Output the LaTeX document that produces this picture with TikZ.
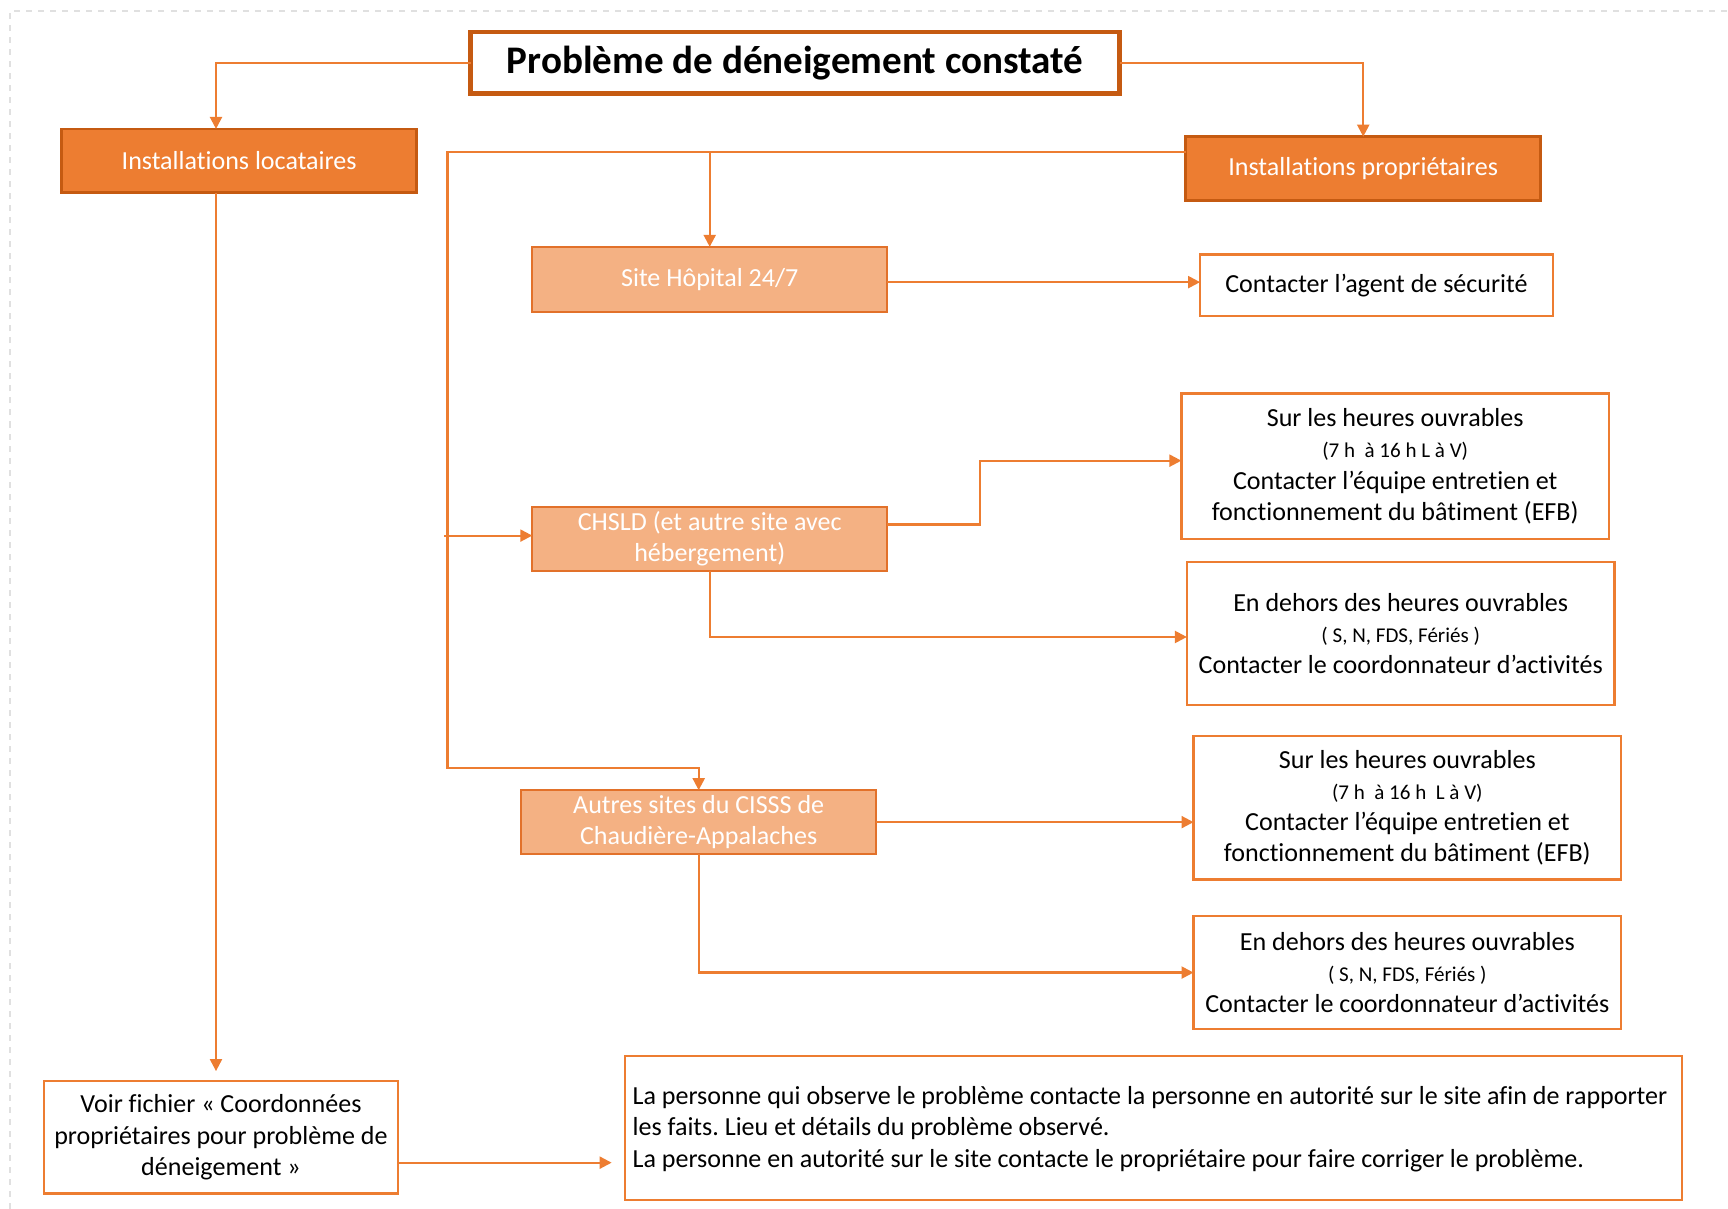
\documentclass[tikz,border=0pt]{standalone}
\usepackage{fontspec}
\setmainfont{Carlito}[Ligatures=NoCommon]
\usetikzlibrary{arrows.meta,calc}
\definecolor{org}{HTML}{ED7D31}
\definecolor{orgdark}{HTML}{C55A11}
\definecolor{orglight}{HTML}{F4B183}
\definecolor{orgedge}{HTML}{E2712A}
\newcommand\smallline{\fontsize{10.5}{15.6}\selectfont}
\frenchspacing
\begin{document}
\begin{tikzpicture}[x=0.55pt,y=-0.55pt,
  every node/.style={inner sep=0pt, outer sep=0pt, align=center, font=\fontsize{13}{15.6}\selectfont},
  sz/.style 2 args={minimum width=#1*0.55pt, minimum height=#2*0.55pt},
  titlebox/.style={draw=orgdark, fill=white, line width=2.2pt, text=black, font=\bfseries\fontsize{19.5}{23}\selectfont},
  darkbox/.style={draw=orgdark, fill=org, line width=1.4pt, text=white},
  lightbox/.style={draw=orgedge, fill=orglight, line width=1.2pt, text=white},
  whitebox/.style={draw=org, fill=white, line width=1.1pt, text=black},
  conn/.style={draw=org, line width=1.1pt},
  arr/.style={conn, -{Triangle[length=6pt,width=6pt]}}
]
\useasboundingbox (0,0) rectangle (1568,1097);
\draw[black!12, dashed, line width=0.6pt] (9,1097) -- (9,10) -- (1568,10);

% nodes
\node[titlebox, sz={589}{56}] (title) at (721.5,57) {Problème de déneigement constaté};
\node[darkbox, sz={322}{58}] (loc) at (217,146) {Installations locataires};
\node[darkbox, sz={322}{58}] (prop) at (1237,153) {Installations propriétaires};
\node[lightbox, sz={322}{59}] (hop) at (644,253.5) {Site Hôpital 24/7};
\node[whitebox, sz={320}{56}] (agent) at (1249,259) {Contacter l’agent de sécurité};
\node[whitebox, sz={388}{132}] (sur1) at (1266,423) {Sur les heures ouvrables\\{\smallline(7 h ~à 16 h L à V)}\\Contacter l’équipe entretien et\\fonctionnement du bâtiment (EFB)};
\node[lightbox, sz={322}{58}] (chsld) at (644,489) {CHSLD (et autre site avec\\hébergement)};
\node[whitebox, sz={388}{130}] (dehors1) at (1271,575) {En dehors des heures ouvrables\\{\smallline( S, N, FDS, Fériés )}\\Contacter le coordonnateur d’activités};
\node[lightbox, sz={322}{58}] (autres) at (634,746) {Autres sites du CISSS de\\Chaudière-Appalaches};
\node[whitebox, sz={388}{130}] (sur2) at (1277,733) {Sur les heures ouvrables\\{\smallline(7 h ~à 16 h ~L à V)}\\Contacter l’équipe entretien et\\fonctionnement du bâtiment (EFB)};
\node[whitebox, sz={388}{103}] (dehors2) at (1277,882.5) {En dehors des heures ouvrables\\{\smallline( S, N, FDS, Fériés )}\\Contacter le coordonnateur d’activités};
\node[whitebox, sz={321}{102}] (voir) at (200.5,1032) {Voir fichier «~Coordonnées\\propriétaires pour problème de\\déneigement~»};
\node[whitebox, sz={959}{131}] (pers) at (1046.5,1023.5) {};
\node[anchor=west, align=left] (perstext) at (574,1024.5) {La personne qui observe le problème contacte la personne en autorité sur le site afin de rapporter\\les faits. Lieu et détails du problème observé.\\La personne en autorité sur le site contacte le propriétaire pour faire corriger le problème.};

% coordinates
\coordinate (busT) at (406,138);
\coordinate (busB) at (406,697);
\coordinate (pa) at ($(prop.north west)+(0,14)$);
\coordinate (lv) at ($(loc.south)+(-21,0)$);
\coordinate (cl) at ($(busT |- chsld.west)+(-3,-3)$);
\coordinate (va) at ($(voir.east)+(0,23)$);
\coordinate (ce) at ($(chsld.east)+(0,-13)$);

% connectors
\draw[arr] (title.west) -| ($(loc.north)+(-21,0)$);
\draw[arr] (title.east) -| (prop.north);
\draw[arr] (pa) -| (hop.north);
\draw[arr] (pa) -- (busT) -- (busB) -| (autres.north);
\draw[arr] (cl) -- (cl -| chsld.west);
\draw[arr] ($(hop.east)+(0,2.5)$) -- ($(hop.east -| agent.west)+(0,2.5)$);
\draw[arr] (ce) -- ++(84,0) |- ($(sur1.west)+(0,-5)$);
\draw[arr] (chsld.south) |- ($(dehors1.west)+(0,3)$);
\draw[arr] (autres.east) -- (autres.east -| sur2.west);
\draw[arr] (autres.south) |- (dehors2.west);
\draw[arr, shorten >=5pt] (lv) -- (lv |- voir.north);
\draw[arr, shorten >=6.6pt] (va) -- (va -| pers.west);
\end{tikzpicture}
\end{document}
